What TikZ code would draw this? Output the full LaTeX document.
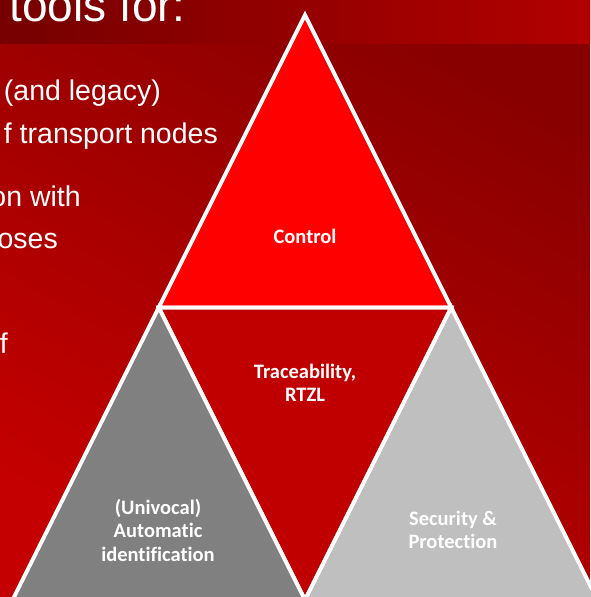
\documentclass[tikz,border=0pt]{standalone}
\usepackage{fontspec}
\setmainfont{Liberation Sans}
\newfontfamily\calib[Ligatures={NoCommon}]{Carlito}
\definecolor{bgdark}{HTML}{880000}
\definecolor{bgbright}{HTML}{C40000}
\definecolor{bandl}{HTML}{760000}
\definecolor{bandm}{HTML}{880000}
\definecolor{bandr}{HTML}{B20000}
\definecolor{topred}{HTML}{FF0000}
\definecolor{midred}{HTML}{C00000}
\definecolor{darkgray}{HTML}{808080}
\definecolor{lightgray}{HTML}{BFBFBF}
\begin{document}
\begin{tikzpicture}[x=1pt,y=-1pt,
  tri/.style={draw=white,line width=4pt,line join=miter},
  lbl/.style={text=white,font=\calib\bfseries\fontsize{20.5}{23.5}\selectfont,align=center,inner sep=0pt},
  body/.style={text=white,font=\fontsize{28.5}{34}\selectfont,anchor=base east,inner sep=0pt}]
\useasboundingbox (0,0) rectangle (590,597);
% background
\shade[top color=bgdark,bottom color=bgbright,shading angle=-30] (0,0) rectangle (590,597);
\shade[left color=bandl,middle color=bandm,right color=bandr] (0,0) rectangle (590,43);
% texts on the left
\node[text=white,font=\fontsize{46}{50}\selectfont,anchor=base east,inner sep=0pt] (title) at (186,21) {tools for:};
\node[body] (l1) at (161,100) {(and legacy)};
\node[body] (l2) at (218,143) {f transport nodes};
\node[body] (l3) at (81,206) {on with};
\node[body] (l4) at (58,248) {oses};
\node[body] (l5) at (8,353) {f};
% triangle
\coordinate (A) at (305,15);
\coordinate (L) at (12.5,600);
\coordinate (R) at (597.5,600);
\coordinate (ML) at (158.75,307.5);
\coordinate (MR) at (451.25,307.5);
\coordinate (MB) at (305,600);
\filldraw[tri,fill=topred] (A) -- (ML) -- (MR) -- cycle;
\filldraw[tri,fill=midred] (ML) -- (MR) -- (MB) -- cycle;
\filldraw[tri,fill=darkgray] (ML) -- (MB) -- (L) -- cycle;
\filldraw[tri,fill=lightgray] (MR) -- (R) -- (MB) -- cycle;
% labels
\node[lbl] (ctl) at (305,236) {Control};
\node[lbl] (trc) at (305,383) {Traceability,\\RTZL};
\node[lbl] (aid) at (158,530) {(Univocal)\\Automatic\\identification};
\node[lbl] (sec) at (453,530) {Security \&\\Protection};
\end{tikzpicture}
\end{document}
